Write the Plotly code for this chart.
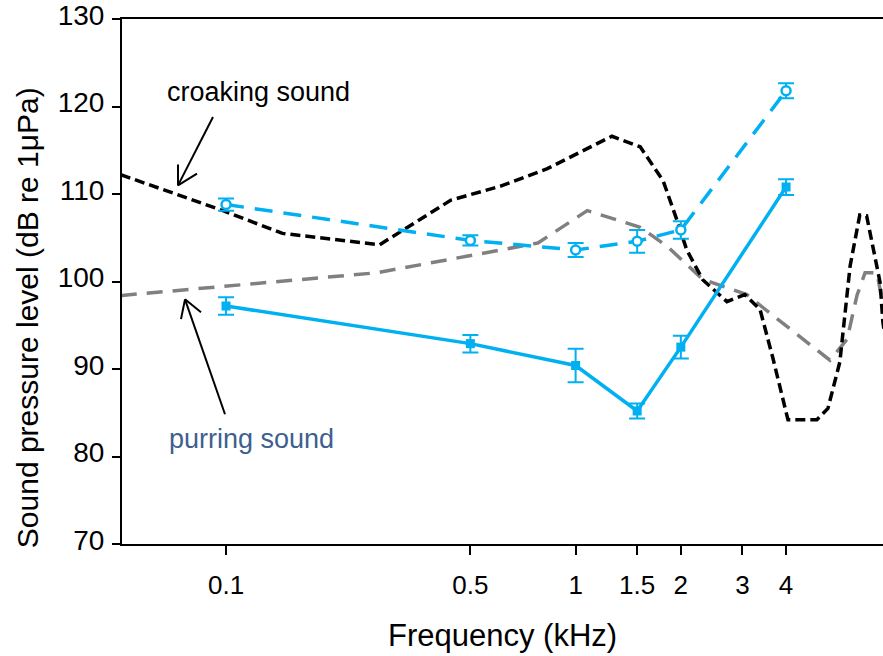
import plotly.graph_objects as go
import math

# ---- data ----
freq_pts = [0.1, 0.5, 1, 1.5, 2, 4]
purr_db = [97.2, 92.9, 90.4, 85.2, 92.5, 110.8]
purr_err = [1.0, 1.0, 1.9, 0.85, 1.3, 0.9]
croak_db = [108.8, 104.7, 103.6, 104.6, 105.9, 121.8]
croak_err = [0.7, 0.6, 0.8, 1.3, 1.0, 0.87]

croak_spec_f = [0.05, 0.098, 0.145, 0.275, 0.44, 0.61, 0.83, 1.27, 1.53, 1.78, 1.95,
                2.08, 2.31, 2.71, 3.05, 3.37, 3.67, 4.05, 4.9, 5.27, 5.7, 6.1, 6.5,
                6.8, 7.43, 7.57, 7.8]
croak_spec_db = [112.2, 108.1, 105.5, 104.2, 109.3, 110.9, 112.9, 116.6, 115.4, 111.5,
                 107.0, 103.6, 100.2, 97.7, 98.5, 96.8, 91.2, 84.2, 84.2, 85.5, 90.8,
                 101.8, 107.6, 107.5, 99.9, 95.3, 92.0]

purr_spec_f = [0.05, 0.074, 0.27, 0.61, 0.78, 1.08, 1.53, 1.83, 2.31, 3.09, 3.44,
               5.34, 5.98, 6.38, 6.73, 7.28, 7.57, 7.82]
purr_spec_db = [98.4, 99.0, 101.0, 103.6, 104.4, 108.1, 106.2, 104.0, 100.25, 98.5,
                97.0, 91.0, 93.4, 98.4, 101.0, 101.0, 97.0, 94.2]

tick_vals = [0.1, 0.5, 1, 1.5, 2, 3, 4]
tick_text = ["0.1", "0.5", "1", "1.5", "2", "3", "4"]
y_ticks = [70, 80, 90, 100, 110, 120, 130]

BLUE = "#00B0F0"
FONT = "Liberation Sans, Arial, sans-serif"

W, H = 883, 656
L, R, T, B = 122, 0, 14, 112
x_lo, x_hi = math.log10(0.0504), math.log10(7.574)

fig = go.Figure()

fig.add_trace(go.Scatter(x=purr_spec_f, y=purr_spec_db, mode="lines",
                         line=dict(color="#808080", width=3.5, dash="16px,10px"),
                         showlegend=False))
fig.add_trace(go.Scatter(x=croak_spec_f, y=croak_spec_db, mode="lines",
                         line=dict(color="#000000", width=3.5, dash="10px,5px"),
                         showlegend=False))
fig.add_trace(go.Scatter(x=freq_pts, y=purr_db, mode="lines+markers",
                         line=dict(color=BLUE, width=3.5),
                         marker=dict(symbol="square", size=9, color=BLUE),
                         error_y=dict(type="data", array=purr_err, color=BLUE,
                                      thickness=2, width=8),
                         showlegend=False))
fig.add_trace(go.Scatter(x=freq_pts, y=croak_db, mode="lines+markers",
                         line=dict(color=BLUE, width=3.5, dash="18px,11px"),
                         marker=dict(symbol="circle", size=9, color="white",
                                     line=dict(color=BLUE, width=2.5)),
                         error_y=dict(type="data", array=croak_err, color=BLUE,
                                      thickness=2, width=8),
                         showlegend=False))


def pp(x, y):
    return (x - L) / (W - L - R), (H - B - y) / (H - B - T)


shapes = []


def seg(p, q):
    a = pp(*p)
    b = pp(*q)
    shapes.append(dict(type="line", xref="paper", yref="paper",
                       x0=a[0], y0=a[1], x1=b[0], y1=b[1],
                       line=dict(color="black", width=2)))


# croaking arrow
seg((213, 113), (178, 182))
seg((178, 182), (178, 161))
seg((178, 182), (197, 170))
# purring arrow
seg((225, 413), (185, 297))
seg((185, 297), (181, 317))
seg((185, 297), (201, 310))

annotations = []


def label(x, y, text, size, color="black", angle=0):
    ax_, ay_ = pp(x, y)
    annotations.append(dict(xref="paper", yref="paper", x=ax_, y=ay_, text=text,
                            showarrow=False, xanchor="center", yanchor="middle",
                            textangle=angle,
                            font=dict(family=FONT, size=size, color=color)))


label(258, 88, "croaking sound", 27)
label(251, 438, "purring sound", 27, "#3E5F8F")
label(502, 636, "Frequency (kHz)", 31)
label(27, 316, "Sound pressure level (dB re 1μPa)", 30, angle=-90)

fig.update_layout(
    width=W, height=H,
    margin=dict(l=L, r=R, t=T, b=B, pad=0),
    paper_bgcolor="white", plot_bgcolor="white",
    font=dict(family=FONT, color="black"),
    shapes=shapes, annotations=annotations,
    xaxis=dict(type="log", range=[x_lo, x_hi], tickvals=tick_vals, ticktext=tick_text,
               showgrid=False, zeroline=False, showline=True, linecolor="black",
               linewidth=2, mirror=True, ticks="outside", ticklen=9, tickwidth=1.5,
               tickcolor="black", tickfont=dict(size=26, family=FONT),
               ticklabelstandoff=8),
    yaxis=dict(range=[70, 130], tickvals=y_ticks, showgrid=False, zeroline=False,
               showline=True, linecolor="black", linewidth=2, mirror=False,
               ticks="outside", ticklen=8, tickwidth=1.5, tickcolor="black",
               tickfont=dict(size=28, family=FONT), ticklabeloverflow="allow",
               ticklabelshift=-4, ticklabelstandoff=2),
)

fig.write_html("out.html")
